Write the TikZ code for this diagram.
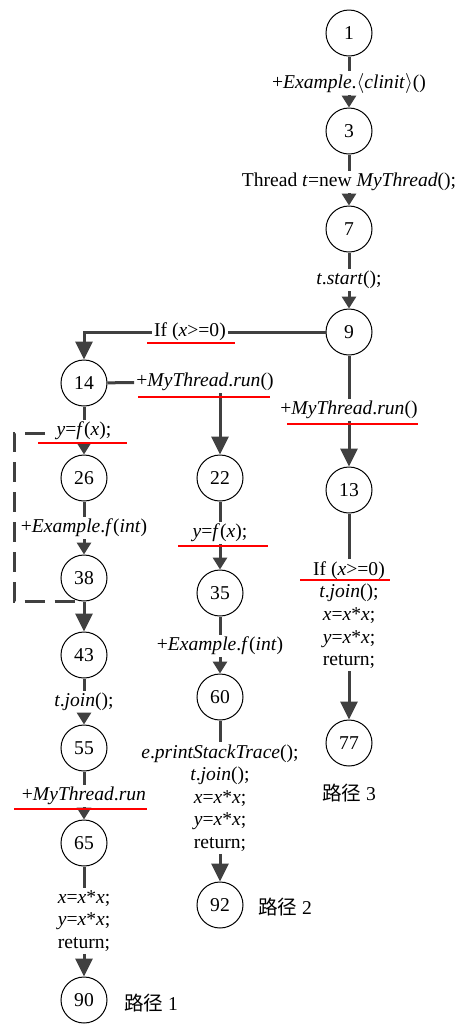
\documentclass[tikz,border=0pt]{standalone}
\usepackage{fontspec}
\setmainfont{Liberation Serif}
\newfontfamily\cjk{Noto Sans CJK SC}
\usetikzlibrary{arrows.meta}
\definecolor{edgegray}{HTML}{404040}
\begin{document}
\begin{tikzpicture}[x=0.5pt,y=-0.5pt,>={Triangle[width=7pt,length=6pt]},
	circ/.style={draw,circle,line width=0.5pt,minimum size=23pt,inner sep=0pt,font=\fontsize{9.8}{11}\selectfont},
	lab/.style={fill=white,inner sep=1pt,align=center,font=\fontsize{9.8}{11.3}\selectfont},
	flow/.style={draw=edgegray,line width=1.5pt},
	longarr/.style={flow,-{Triangle[width=8.5pt,length=9pt]}},
	redline/.style={draw=red,line width=1pt},
	dashloop/.style={draw=edgegray,line width=1.5pt,dash pattern=on 10pt off 5pt}]
		\useasboundingbox (0,0) rectangle (455,1024);
		\fill[white] (0,0) rectangle (455,1024);
		% right column
		\node[circ] (n1) at (349,33) {1};
		\node[lab] (l1) at (349,83) {+\textit{Example}.$\langle$\textit{clinit}$\rangle$()};
		\node[circ] (n3) at (349,131) {3};
		\node[lab] (l3) at (349,182) {Thread \textit{t}=new \textit{MyThread}();};
		\node[circ] (n7) at (349,229) {7};
		\node[lab] (l7) at (349,280) {\textit{t}.\textit{start}();};
		\node[circ] (n9) at (349,332) {9};
		\node[lab] (r9) at (349,410) {+\textit{MyThread}.\textit{run}()};
		\node[circ] (n13) at (349,490) {13};
		\node[lab] (b13) at (349,615) {If (\textit{x}>=0)\\\textit{t}.\textit{join}();\\\textit{x}=\textit{x}*\textit{x};\\\textit{y}=\textit{x}*\textit{x};\\return;};
		\node[circ] (n77) at (349,743) {77};
		\node[lab] (p3) at (349,793) {{\cjk 路径} 3};
		% middle column
		\node[lab] (r14) at (205,382) {+\textit{MyThread}.\textit{run}()};
		\node[circ] (n22) at (220,478) {22};
		\node[lab] (l22) at (220,533) {\textit{y}=\textit{f}(\textit{x});};
		\node[circ] (n35) at (220,593) {35};
		\node[lab] (l35) at (220,646) {+\textit{Example}.\textit{f}(\textit{int})};
		\node[circ] (n60) at (220,697) {60};
		\node[lab] (b60) at (220,798) {\textit{e}.\textit{printStackTrace}();\\\textit{t}.\textit{join}();\\\textit{x}=\textit{x}*\textit{x};\\\textit{y}=\textit{x}*\textit{x};\\return;};
		\node[circ] (n92) at (220,905) {92};
		\node[lab] (p2) at (285,907) {{\cjk 路径} 2};
		% left column
		\node[circ] (n14) at (84,383) {14};
		\node[lab] (l14) at (84,431) {\textit{y}=\textit{f}(\textit{x});};
		\node[circ] (n26) at (84,478) {26};
		\node[lab] (l26) at (84,528) {+\textit{Example}.\textit{f}(\textit{int})};
		\node[circ] (n38) at (84,578) {38};
		\node[circ] (n43) at (84,655) {43};
		\node[lab] (l43) at (84,702) {\textit{t}.\textit{join}();};
		\node[circ] (n55) at (84,748) {55};
		\node[lab] (l55) at (84,796) {+\textit{MyThread}.\textit{run}};
		\node[circ] (n65) at (84,843) {65};
		\node[lab] (b65) at (84,921) {\textit{x}=\textit{x}*\textit{x};\\\textit{y}=\textit{x}*\textit{x};\\return;};
		\node[circ] (n90) at (84,1000) {90};
		\node[lab] (p1) at (151,1003) {{\cjk 路径} 1};
		% edges
		\draw[flow] (n1) -- (l1);
		\draw[flow,->] (l1) -- (n3);
		\draw[flow] (n3) -- (l3);
		\draw[flow,->] (l3) -- (n7);
		\draw[flow] (n7) -- (l7);
		\draw[flow,->] (l7) -- (n9);
		\draw[longarr] (n9) -| (n14);
		\node[lab] (c9) at (190,332) {If (\textit{x}>=0)};
		\draw[flow] (n9) -- (r9);
		\draw[longarr] (r9) -- (n13);
		\draw[flow] (n13) -- (b13);
		\draw[longarr] (b13) -- (n77);
		\draw[flow] (n14) -- (r14);
		\draw[longarr] (r14.south -| n22) -- (n22);
		\draw[flow] (n22) -- (l22);
		\draw[flow,->] (l22) -- (n35);
		\draw[flow] (n35) -- (l35);
		\draw[flow,->] (l35) -- (n60);
		\draw[flow] (n60) -- (b60);
		\draw[longarr] (b60) -- (n92);
		\draw[flow] (n14) -- (l14);
		\draw[flow,->] (l14) -- (n26);
		\draw[flow] (n26) -- (l26);
		\draw[flow,->] (l26) -- (n38);
		\draw[longarr] (n38) -- (n43);
		\draw[flow] (n43) -- (l43);
		\draw[flow,->] (l43) -- (n55);
		\draw[flow] (n55) -- (l55);
		\draw[flow,->] (l55) -- (n65);
		\draw[flow] (n65) -- (b65);
		\draw[longarr] (b65) -- (n90);
		% loop back
		\coordinate (loopstart) at (45,433);
		\draw[dashloop] (loopstart) -- (14,433) |- (n38.south);
		% red underlines
		\draw[redline] (147,343) -- (235,343);
		\draw[redline] (138,397) -- (270,397);
		\draw[redline] (287,424) -- (418,424);
		\draw[redline] (300,580) -- (390,580);
		\draw[redline] (38,443) -- (127,443);
		\draw[redline] (178,546) -- (268,546);
		\draw[redline] (14,809) -- (147,809);
\end{tikzpicture}
\end{document}
